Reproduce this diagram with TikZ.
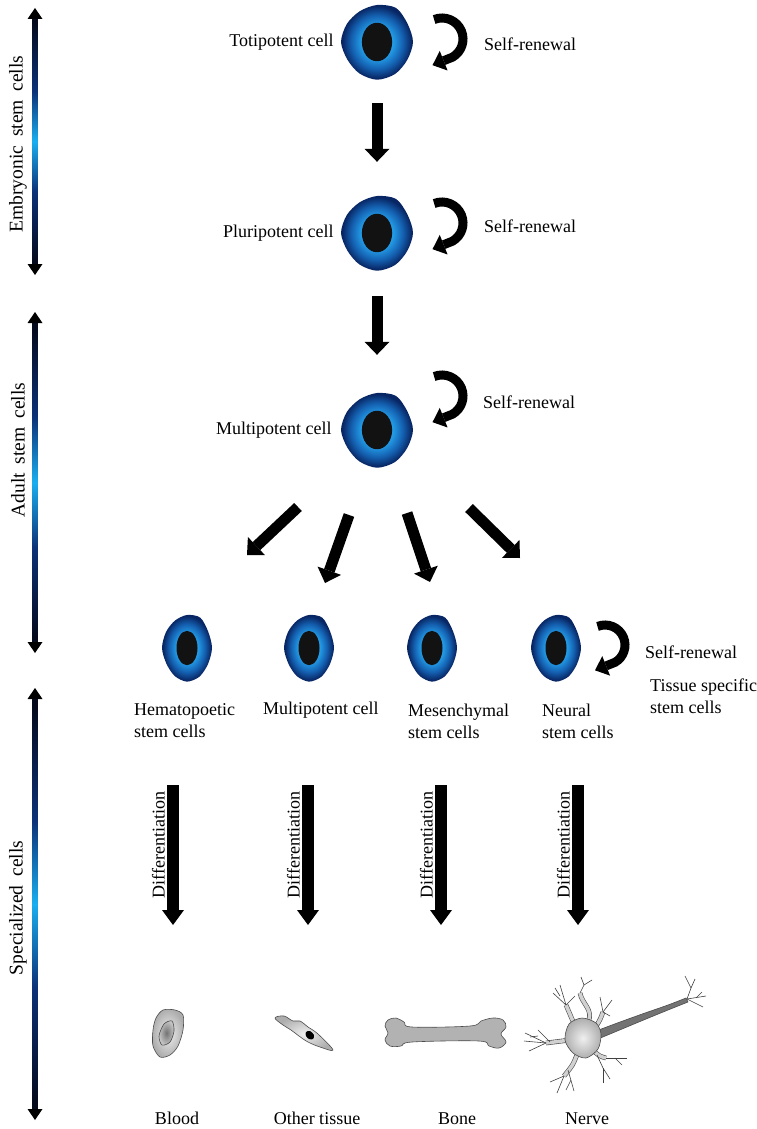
\documentclass[tikz,border=0pt]{standalone}
\usepackage{fontspec}
\setmainfont{Liberation Serif}
\usetikzlibrary{arrows.meta,positioning}

\definecolor{cellcyan}{RGB}{35,155,230}
\definecolor{cellblue}{RGB}{20,95,175}
\definecolor{cellnavy}{RGB}{8,38,100}
\definecolor{bardark}{RGB}{5,10,28}
\definecolor{barnavy}{RGB}{12,50,120}
\definecolor{barlight}{RGB}{25,175,240}
\pgfdeclareradialshading{cellshading}{\pgfpoint{0bp}{0bp}}{color(0bp)=(cellcyan); color(11bp)=(cellcyan); color(18bp)=(cellblue); color(24bp)=(cellnavy); color(50bp)=(cellnavy)}
\pgfdeclareverticalshading{barshading}{100bp}{color(0bp)=(bardark); color(26bp)=(bardark); color(40bp)=(barnavy); color(50bp)=(barlight); color(60bp)=(barnavy); color(74bp)=(bardark); color(100bp)=(bardark)}

\newcommand{\lblfont}{\fontsize{18}{22}\selectfont}
\newcommand{\barfont}{\fontsize{19.5}{22}\selectfont\spaceskip=0.45em\relax}

\tikzset{
  stemcell/.pic={
    \shade[shading=cellshading] plot[smooth cycle] coordinates {(1,0) (0.84,0.485) (0.5,0.866) (0,1.02) (-0.49,0.849) (-0.823,0.475) (-1,0) (-0.84,-0.485) (-0.48,-0.831) (0,-1) (0.53,-0.92) (0.85,-0.49)};
    \fill[black!93] (0,0) ellipse[x radius=0.42, y radius=0.52];
  },
  bigcell/.style={inner sep=0pt, minimum width=72pt, minimum height=74pt},
  smallcell/.style={inner sep=0pt, minimum width=50pt, minimum height=66pt},
  lbl/.style={font=\lblfont, inner sep=1pt},
  barlbl/.style={font=\barfont, inner sep=1pt, rotate=90},
  fat/.style={line width=11pt, -{Triangle[width=25pt,length=13pt,line width=0pt]}},
  renewal/.style={line width=9pt, -{Triangle[width=21pt,length=12pt,line width=0pt]}},
  diffarrow/.style={line width=12pt, -{Triangle[width=22pt,length=15pt,line width=0pt]}},
  grey cell/.style={draw=black!70, line width=0.6pt, inner color=black!6, outer color=black!32},
  trunk/.style={draw=black!70, line width=0.6pt, double=black!18, double distance=3.5pt},
  twig/.style={draw=black!75, line width=0.6pt}
}

\begin{document}
\begin{tikzpicture}[x=1pt, y=-1pt]
	\useasboundingbox (0,0) rectangle (757,1129);

	\foreach \a/\b/\m/\txt in {8/275/144/Embryonic stem cells, 312/653/450/Adult stem cells, 688/1120/908/Specialized cells} {
		\shade[shading=barshading] (32.5,\a+8) rectangle (37.5,\b-8);
		\fill (35,\a) -- (42.5,\a+11) -- (27.5,\a+11) -- cycle;
		\fill (35,\b) -- (42.5,\b-11) -- (27.5,\b-11) -- cycle;
		\node[barlbl] (phase\m) at (18,\m) {\txt};
	}

	\node[bigcell] (toti) at (377,42) {};
	\node[bigcell] (pluri) at (377,233) {};
	\node[bigcell] (multi) at (377,430) {};
	\pic[xscale=36, yscale=37] at (toti) {stemcell};
	\pic[xscale=36, yscale=37] at (pluri) {stemcell};
	\pic[xscale=36, yscale=37] at (multi) {stemcell};

	\node[lbl, left=6pt of toti] (totilbl) {Totipotent cell};
	\node[lbl, left=6pt of pluri] (plurilbl) {Pluripotent cell};
	\node[lbl, left=8pt of multi] (multilbl) {Multipotent cell};

	\draw[renewal] (toti.center) ++(65,-3) ++(-112:21) arc[start angle=-112, end angle=60, radius=21] -- ++(-20,8);
	\draw[renewal] (pluri.center) ++(65,-10) ++(-112:21) arc[start angle=-112, end angle=60, radius=21] -- ++(-20,8);
	\draw[renewal] (multi.center) ++(65,-34) ++(-112:21) arc[start angle=-112, end angle=60, radius=21] -- ++(-20,8);
	\node[lbl, anchor=west] (sr1) at (483,44) {Self-renewal};
	\node[lbl, anchor=west] (sr2) at (483,226) {Self-renewal};
	\node[lbl, anchor=west] (sr3) at (482,402) {Self-renewal};

	\draw[fat, shorten <=24pt, shorten >=34pt] (toti) -- (pluri);
	\draw[fat, shorten <=26pt, shorten >=38pt] (pluri) -- (multi);

	\node[smallcell] (hsc) at (187,648) {};
	\node[smallcell] (mpc) at (309,648) {};
	\node[smallcell] (msc) at (432,648) {};
	\node[smallcell] (nsc) at (556,648) {};
	\foreach \c in {hsc,mpc,msc,nsc}
		\pic[xscale=25, yscale=33] at (\c) {stemcell};

	\foreach \n/\sx/\sy/\ex/\ey in {1/298/507/247/555, 2/349/515/325/583, 3/407/513/430/582, 4/469/508/520/558} {
		\coordinate (from\n) at (\sx,\sy);
		\coordinate (to\n) at (\ex,\ey);
		\draw[fat] (from\n) -- (to\n);
	}

	\node[lbl, anchor=west, align=left] (hsclbl) at (133,721) {Hematopoetic\\stem cells};
	\node[lbl, anchor=west] (mpclbl) at (262,710) {Multipotent cell};
	\node[lbl, anchor=west, align=left] (msclbl) at (407,721) {Mesenchymal\\stem cells};
	\node[lbl, anchor=west, align=left] (nsclbl) at (541,721) {Neural\\stem cells};

	\draw[renewal] (nsc.center) ++(49,-3) ++(-112:20) arc[start angle=-112, end angle=60, radius=20] -- ++(-20,8);
	\node[lbl, anchor=west] (sr4) at (644,652) {Self-renewal};
	\node[lbl, anchor=west, align=left] (tissue) at (649,696) {Tissue specific\\stem cells};

	\foreach \n/\x in {1/173, 2/308, 3/441, 4/578} {
		\coordinate (dtop\n) at (\x,785);
		\coordinate (dbot\n) at (\x,925);
		\draw[diffarrow] (dtop\n) -- (dbot\n);
		\node[lbl, rotate=90, anchor=south] (diff\n) at ([xshift=-7pt, yshift=-60pt]dtop\n) {Differentiation};
	}

	% blood cell
	\shadedraw[grey cell] plot[smooth cycle] coordinates {(163,1010) (175,1010) (183,1015) (183,1030) (178,1046) (170,1055) (160,1057) (153,1046) (153,1030) (156,1018)};
	\shadedraw[draw=black!70, line width=0.6pt, inner color=black!55, outer color=black!22] plot[smooth cycle] coordinates {(164,1024) (172,1021) (174,1031) (170,1042) (162,1045) (159,1036)};

	% other tissue
	\shadedraw[grey cell] plot[smooth cycle, tension=0.6] coordinates {(275,1018) (284,1016) (293,1021) (300,1021) (308,1027) (318,1034) (333,1050) (320,1047) (308,1042) (299,1036) (291,1030) (283,1025)};
	\fill[black] plot[smooth cycle] coordinates {(306,1032) (310,1031) (314,1035) (313,1039) (309,1039) (306,1036)};

	% bone
	\draw[fill=black!30, draw=black!70, line width=0.6pt] plot[smooth cycle, tension=0.6] coordinates {(388,1020) (396,1018) (404,1022) (412,1027) (470,1026) (481,1021) (493,1018) (503,1020) (506,1027) (501,1034) (506,1042) (499,1048) (489,1046) (479,1041) (412,1042) (401,1046) (390,1046) (385,1040) (388,1033) (385,1026)};

	% nerve cell: axon, dendrites, body
	\draw[fill=black!55, draw=black!70, line width=0.6pt] plot[smooth, tension=0.6] coordinates {(596,1031) (620,1022) (645,1013) (668,1005) (686,998)} -- plot[smooth, tension=0.6] coordinates {(688,1002) (668,1010) (646,1019) (622,1029) (598,1039)} -- cycle;
	\draw[trunk] (570,1040) .. controls (558,1042) .. (546,1043);
	\draw[trunk] (575,1026) .. controls (570,1016) .. (566,1005);
	\draw[trunk] (588,1022) .. controls (594,1010) and (582,1004) .. (580,993);
	\draw[trunk] (578,1052) .. controls (573,1065) .. (564,1076);
	\draw[trunk] (593,1050) .. controls (599,1056) .. (606,1058);
	\draw[trunk] (595,1028) .. controls (600,1020) .. (603,1012);
	\shadedraw[grey cell] plot[smooth cycle] coordinates {(569,1024) (582,1018) (596,1023) (601,1034) (598,1049) (586,1058) (573,1053) (565,1040)};
	\draw[twig] (546,1043) -- (525,1033);
	\draw[twig] (546,1043) -- (524,1041);
	\draw[twig] (546,1043) -- (529,1051);
	\draw[twig] (550,1042) -- (538,1030);
	\draw[twig] (538,1036) -- (530,1037);
	\draw[twig] (566,1005) -- (553,993);
	\draw[twig] (566,1005) -- (560,985);
	\draw[twig] (566,1005) -- (575,996);
	\draw[twig] (560,996) -- (555,988);
	\draw[twig] (580,993) -- (584,985) -- (581,977);
	\draw[twig] (584,985) -- (592,980);
	\draw[twig] (603,1012) -- (600,997);
	\draw[twig] (603,1012) -- (612,1000);
	\draw[twig] (603,1012) -- (610,1016);
	\draw[twig] (564,1076) -- (550,1082);
	\draw[twig] (564,1076) -- (557,1093);
	\draw[twig] (568,1070) -- (574,1091);
	\draw[twig] (571,1080) -- (566,1090);
	\draw[twig] (606,1058) -- (627,1058);
	\draw[twig] (615,1058) -- (622,1065);
	\draw[twig] (597,1055) -- (603,1068) -- (610,1079);
	\draw[twig] (603,1068) -- (603,1083);
	\draw[twig] (687,999) -- (691,988) -- (685,976);
	\draw[twig] (691,988) -- (695,979);
	\draw[twig] (687,999) -- (706,996);
	\draw[twig] (687,999) -- (703,1007);
	\draw[twig] (696,998) -- (702,992);

	\node[lbl] (bloodlbl) at (177,1118) {Blood};
	\node[lbl] (otherlbl) at (317,1118) {Other tissue};
	\node[lbl] (bonelbl) at (457,1119) {Bone};
	\node[lbl] (nervelbl) at (587,1119) {Nerve};
\end{tikzpicture}
\end{document}
